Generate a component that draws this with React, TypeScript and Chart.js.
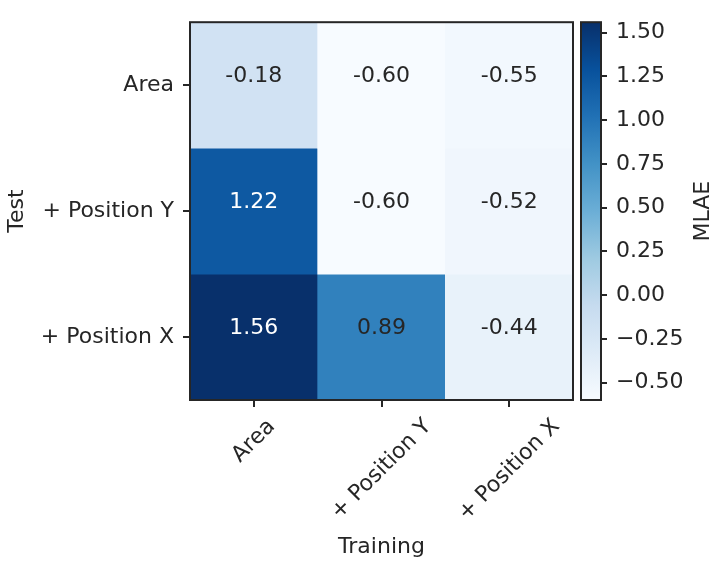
import { useEffect, useRef } from "react";
import { Chart, registerables } from "chart.js";

Chart.register(...registerables);
Chart.defaults.font.family = "'DejaVu Sans', sans-serif";

// axis categories
const trainingLabels = ["Area", "+ Position Y", "+ Position X"];
const testLabels = ["Area", "+ Position Y", "+ Position X"];

// MLAE values, one row per test set (columns = training set)
const testArea = [-0.18, -0.6, -0.55];
const testPositionY = [1.22, -0.6, -0.52];
const testPositionX = [1.56, 0.89, -0.44];

const rows = [testArea, testPositionY, testPositionX];
const allValues = rows.flat();
const vmin = Math.min(...allValues);
const vmax = Math.max(...allValues);

const INK = "#262626";
const FONT_SIZE = 22;

// matplotlib "Blues"
const blues = [
  "#f7fbff", "#deebf7", "#c6dbef", "#9ecae1", "#6baed6",
  "#4292c6", "#2171b5", "#08519c", "#08306b",
];

function hexToRgb(h: string) {
  return [1, 3, 5].map((i) => parseInt(h.slice(i, i + 2), 16));
}

function bluesAt(t: number) {
  const x = Math.min(1, Math.max(0, t)) * (blues.length - 1);
  const i = Math.min(blues.length - 2, Math.floor(x));
  const f = x - i;
  const a = hexToRgb(blues[i]);
  const b = hexToRgb(blues[i + 1]);
  const c = a.map((v, k) => Math.round(v + (b[k] - v) * f));
  return `rgb(${c[0]}, ${c[1]}, ${c[2]})`;
}

const norm = (v: number) => (v - vmin) / (vmax - vmin);

const heatmapPlugin = {
  id: "heatmapExtras",
  afterDatasetsDraw(chart: any) {
    const ctx = chart.ctx;
    ctx.save();
    ctx.font = `${FONT_SIZE}px 'DejaVu Sans'`;
    ctx.textAlign = "center";
    ctx.textBaseline = "alphabetic";
    chart.data.datasets.forEach((ds: any, r: number) => {
      const meta = chart.getDatasetMeta(r);
      meta.data.forEach((el: any, c: number) => {
        const v = rows[r][c];
        ctx.fillStyle = norm(v) > 0.75 ? "#ffffff" : INK;
        ctx.fillText(v.toFixed(2), el.x, (el.y + el.base) / 2 - 3);
      });
    });
    ctx.restore();
  },
  afterDraw(chart: any) {
    const ctx = chart.ctx;
    const a = chart.chartArea;
    ctx.save();
    ctx.strokeStyle = INK;
    ctx.lineWidth = 2;
    ctx.strokeRect(a.left, a.top, a.right - a.left, a.bottom - a.top);

    // rotated x tick labels, bbox centred on tick (matplotlib style)
    const xs = chart.scales.x;
    ctx.font = `${FONT_SIZE}px 'DejaVu Sans'`;
    ctx.fillStyle = INK;
    ctx.textAlign = "center";
    ctx.textBaseline = "middle";
    const h = FONT_SIZE * 1.164;
    trainingLabels.forEach((lab, i) => {
      const w = ctx.measureText(lab).width;
      const side = (w + h) * Math.SQRT1_2;
      const cx = xs.getPixelForValue(i);
      const cy = a.bottom + 14 + side / 2;
      ctx.save();
      ctx.translate(cx, cy);
      ctx.rotate(-Math.PI / 4);
      ctx.fillText(lab, 0, 0);
      ctx.restore();
    });
    ctx.restore();
  },
};

const colorbarPlugin = {
  id: "colorbarExtras",
  afterDraw(chart: any) {
    const ctx = chart.ctx;
    const a = chart.chartArea;
    ctx.save();
    ctx.strokeStyle = INK;
    ctx.lineWidth = 2;
    ctx.strokeRect(a.left, a.top, a.right - a.left, a.bottom - a.top);
    ctx.font = `${FONT_SIZE}px 'DejaVu Sans'`;
    ctx.fillStyle = INK;
    ctx.textAlign = "center";
    ctx.textBaseline = "middle";
    ctx.translate(128, (a.top + a.bottom) / 2);
    ctx.rotate(-Math.PI / 2);
    ctx.fillText("MLAE", 0, 0);
    ctx.restore();
  },
};

const tickGrid = {
  drawOnChartArea: false,
  tickLength: 7,
  color: INK,
  lineWidth: 2,
};

export default function App() {
  const heatRef = useRef<HTMLCanvasElement>(null);
  const barRef = useRef<HTMLCanvasElement>(null);

  useEffect(() => {
    const heat = new Chart(heatRef.current!, {
      type: "bar",
      data: {
        labels: trainingLabels,
        datasets: rows.map((row, r) => ({
          label: testLabels[r],
          data: row.map(() => [r - 0.5, r + 0.5]),
          backgroundColor: row.map((v) => bluesAt(norm(v))),
          borderWidth: 0,
          barPercentage: 1,
          categoryPercentage: 1,
          grouped: false,
        })),
      } as any,
      options: {
        responsive: false,
        animation: false,
        layout: { padding: { top: 17, right: 2, left: 0, bottom: 0 } },
        plugins: { legend: { display: false }, tooltip: { enabled: false } },
        scales: {
          x: {
            type: "category",
            offset: true,
            grid: { ...tickGrid, offset: false },
            border: { display: false },
            ticks: { display: false },
            title: {
              display: true,
              text: "Training",
              color: INK,
              font: { size: FONT_SIZE },
              padding: { top: 0, bottom: 3 },
            },
            afterFit: (s: any) => {
              s.height = 163;
            },
          },
          y: {
            type: "linear",
            min: -0.5,
            max: 2.5,
            reverse: true,
            grid: tickGrid,
            border: { display: false },
            afterBuildTicks: (s: any) => {
              s.ticks = testLabels.map((_, i) => ({ value: i }));
            },
            ticks: {
              color: INK,
              font: { size: FONT_SIZE },
              padding: 9,
              callback: (v: any) => testLabels[Math.round(v)] ?? "",
            },
            title: {
              display: true,
              text: "Test",
              color: INK,
              font: { size: FONT_SIZE },
              padding: { top: 4, bottom: 0 },
            },
            afterFit: (s: any) => {
              s.width = 190;
            },
          },
        },
      } as any,
      plugins: [heatmapPlugin],
    });

    const bar = new Chart(barRef.current!, {
      type: "bar",
      data: {
        labels: [""],
        datasets: [
          {
            data: [[vmin, vmax]],
            backgroundColor: (c: any) => {
              const chart = c.chart;
              const ys = chart.scales?.y;
              if (!chart.chartArea || !ys) return blues[4];
              const g = chart.ctx.createLinearGradient(
                0,
                ys.getPixelForValue(vmin),
                0,
                ys.getPixelForValue(vmax)
              );
              blues.forEach((col, i) => g.addColorStop(i / (blues.length - 1), col));
              return g;
            },
            borderWidth: 0,
            barPercentage: 1,
            categoryPercentage: 1,
          },
        ],
      } as any,
      options: {
        responsive: false,
        animation: false,
        layout: { padding: { top: 17, right: 0, left: 6, bottom: 163 } },
        plugins: { legend: { display: false }, tooltip: { enabled: false } },
        scales: {
          x: { display: false },
          y: {
            position: "right",
            min: vmin,
            max: vmax,
            grid: { ...tickGrid, tickLength: 6 },
            border: { display: false },
            ticks: {
              stepSize: 0.25,
              includeBounds: false,
              color: INK,
              font: { size: FONT_SIZE },
              padding: 9,
              callback: (v: any) => {
                const n = Math.abs(v) < 1e-9 ? 0 : Number(v);
                return n.toFixed(2).replace("-", "\u2212");
              },
            },
            afterFit: (s: any) => {
              s.width = 123;
            },
          },
        },
      } as any,
      plugins: [colorbarPlugin],
    });

    return () => {
      heat.destroy();
      bar.destroy();
    };
  }, []);

  return (
    <div
      style={{
        position: "absolute",
        left: 0,
        top: 0,
        width: 724,
        height: 563,
        background: "#ffffff",
      }}
    >
      <canvas
        ref={heatRef}
        width={575}
        height={563}
        style={{ position: "absolute", left: 0, top: 0 }}
      />
      <canvas
        ref={barRef}
        width={149}
        height={563}
        style={{ position: "absolute", left: 575, top: 0 }}
      />
    </div>
  );
}
